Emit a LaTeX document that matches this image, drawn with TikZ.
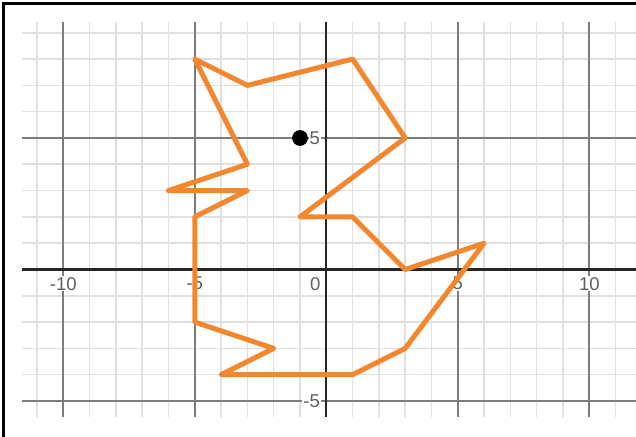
\documentclass[tikz,border=0pt]{standalone}
\usepackage{fontspec}
\setmainfont{Liberation Sans}
\usepackage{xcolor}
\usepackage{tikz}

\definecolor{arancio}{RGB}{242,135,45}
\definecolor{grigliaMin}{RGB}{224,224,224}
\definecolor{grigliaMag}{RGB}{125,125,125}
\definecolor{etichetta}{RGB}{95,95,95}

\tikzset{
    etich/.style={fill=white,inner sep=1pt,text=etichetta,font=\fontsize{18.5}{20}\selectfont},
    lineaMin/.style={grigliaMin,line width=1.6pt},
    lineaMag/.style={grigliaMag,line width=1.6pt},
    asse/.style={black!85,line width=2.2pt},
}

\begin{document}
\begin{tikzpicture}[x=26.3pt,y=26.3pt]

        % Cornice
    \useasboundingbox (-12.407,-6.369) rectangle (11.776,10.247);
    \draw[line width=3pt] (-12.262,-6.369) -- (-12.262,10.114) -- (11.776,10.114);

        % Limiti della griglia
    \pgfmathsetmacro{\xMin}{-11.57}
    \pgfmathsetmacro{\xMax}{11.776}
    \pgfmathsetmacro{\yMin}{-5.6}
    \pgfmathsetmacro{\yMax}{9.41}

        % Griglia secondaria
    \foreach \i in {-11,...,11}
        \draw[lineaMin] (\i,\yMin) -- (\i,\yMax);
    \foreach \j in {-5,...,9}
        \draw[lineaMin] (\xMin,\j) -- (\xMax,\j);

        % Griglia principale
    \foreach \i in {-10,-5,5,10}
        \draw[lineaMag] (\i,\yMin) -- (\i,\yMax);
    \foreach \j in {-5,5}
        \draw[lineaMag] (\xMin,\j) -- (\xMax,\j);

        % Assi
    \draw[asse] (\xMin,0) -- (\xMax,0); % Asse x
    \draw[asse] (0,\yMin) -- (0,\yMax); % Asse y

        % Etichette
    \foreach \i in {-10,-5,5,10}
        \node[etich] (ex\i) at (\i,-0.54) {\i};
    \node[etich] (ex0) at (-0.42,-0.54) {0};
    \node[etich,anchor=east] (ey5) at (-0.2,5) {5};
    \node[etich,anchor=east] (eym5) at (-0.2,-5) {-5};

        % Poligono
    \draw[arancio,line width=5pt,line join=round,line cap=round]
        (-5,8) -- (-3,7) -- (1,8) -- (3,5) -- (-1,2) -- (1,2) -- (3,0)
        -- (6,1) -- (3,-3) -- (1,-4) -- (-4,-4) -- (-2,-3) -- (-5,-2)
        -- (-5,2) -- (-3,3) -- (-6,3) -- (-3,4) -- cycle;

        % Punto
    \fill (-1,5) circle (0.3);

\end{tikzpicture}
\end{document}
